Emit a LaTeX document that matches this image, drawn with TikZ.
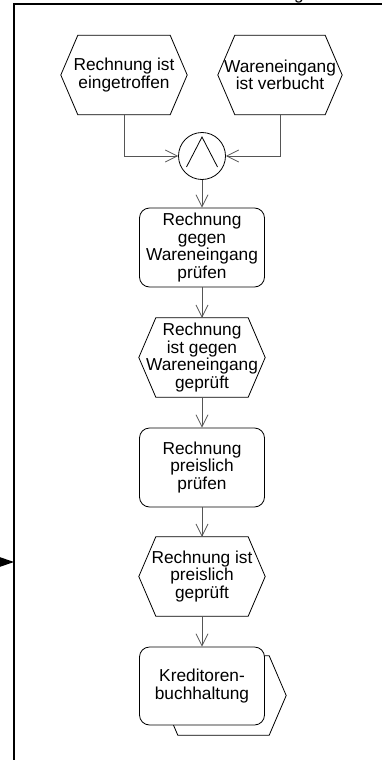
\documentclass[tikz,border=0pt]{standalone}
\usepackage{fontspec}
\setmainfont{Liberation Sans}
\usetikzlibrary{arrows.meta,calc}
\definecolor{conngray}{RGB}{85,85,85}
\newcommand\evthex[2][]{\draw[shp,#1] (#2.west) -- ($(#2.north west)+(17,0)$) -- ($(#2.north east)+(-17,0)$) -- (#2.east) -- ($(#2.south east)+(-17,0)$) -- ($(#2.south west)+(17,0)$) -- cycle;}
\begin{document}
\begin{tikzpicture}[x=1pt,y=-1pt,
  txt/.style={font=\fontsize{17.3}{17.5}\selectfont, align=center, inner sep=0pt},
  evt/.style={txt, minimum width=126pt, minimum height=79pt},
  fn/.style={txt, draw, line width=0.8pt, rounded corners=10pt, minimum width=125pt, minimum height=79pt},
  shp/.style={draw, line width=0.8pt},
  conn/.style={draw=conngray, line width=1pt, -{Straight Barb[length=12pt,width=12pt,line width=0.8pt]}},
  frame/.style={line width=1.5pt}]
\useasboundingbox (0,0) rectangle (382,760);
% frame and partial title
\draw[frame] (390,4) -- (14,4) -- (14,770);
\node[txt, anchor=base] (ttl) at (299,-0.6) {g};
\fill (-2,556.5) -- (14,562) -- (-2,567.5) -- cycle;
% top events
\node[evt] (e1) at (124,75) {Rechnung ist\\eingetroffen};
\evthex{e1}
\node[evt, minimum width=124pt] (e2) at (280,75) {Wareneingang\\ist verbucht};
\evthex{e2}
% AND connector
\node[circle, draw, line width=0.8pt, minimum size=47pt, inner sep=0pt] (c) at (202,156) {};
\draw[shp] ($(c.center)+(-15.5,11)$) -- ($(c.center)+(0,-19)$) -- ($(c.center)+(15.5,11)$);
% function 1
\node[fn] (f1) at (202,247.5) {Rechnung\\gegen\\Wareneingang\\prüfen};
% event 3
\node[evt] (e3) at (202,357.5) {Rechnung\\ist gegen\\Wareneingang\\geprüft};
\evthex{e3}
% function 2
\node[fn] (f2) at (202,467.5) {Rechnung\\preislich\\prüfen};
% event 4
\node[evt] (e4) at (202,576.5) {Rechnung ist\\preislich\\geprüft};
\evthex{e4}
% org unit
\node[evt, minimum width=125pt] (o1s) at (223.5,695.5) {};
\evthex[fill=white]{o1s}
\node[fn, fill=white, minimum height=78pt] (o1) at (202,686) {Kreditoren-\\buchhaltung};
% connectors
\draw[conn] (e1.south) |- (c.west);
\draw[conn] (e2.south) |- (c.east);
\draw[conn] (c.south) -- (f1.north);
\draw[conn] (f1.south) -- (e3.north);
\draw[conn] (e3.south) -- (f2.north);
\draw[conn] (f2.south) -- (e4.north);
\draw[conn] (e4.south) -- (o1.north);
\end{tikzpicture}
\end{document}
